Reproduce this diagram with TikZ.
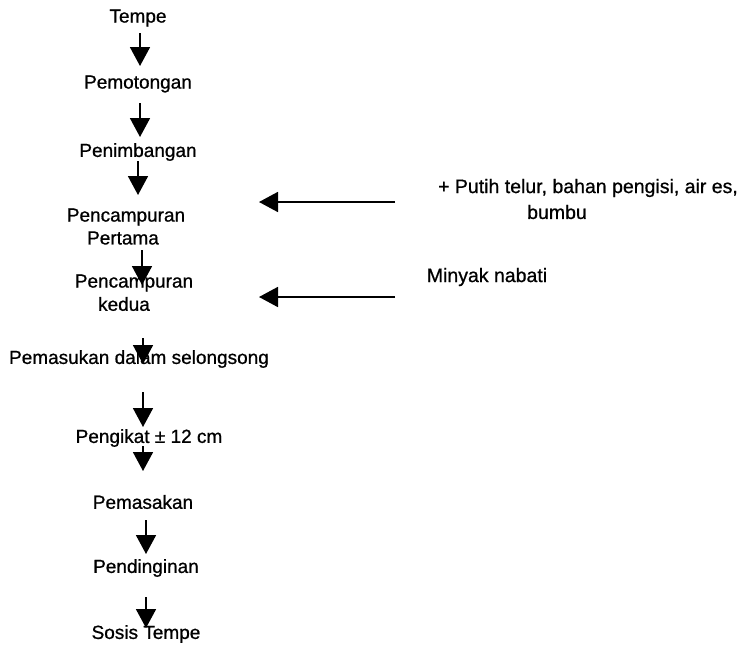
\documentclass[tikz,border=0pt]{standalone}
\usepackage{fontspec}
\setmainfont{Liberation Sans}
\newfontfamily\heavyfont[RawFeature={embolden=0.8}]{Liberation Sans}
\usetikzlibrary{arrows.meta}
\tikzset{
  lbl/.style={inner sep=0pt, font=\fontsize{19}{22}\heavyfont, align=center},
  lblr/.style={lbl, font=\fontsize{19.5}{22}\heavyfont},
  flow/.style={line width=1.8pt, -{Triangle[width=20pt,length=19pt]}},
}
\begin{document}
\begin{tikzpicture}[x=1pt,y=-1pt]
\useasboundingbox (0,0) rectangle (744,645);
\node[lbl] (t1) at (138,18) {Tempe};
\node[lbl] (t2) at (138,84) {Pemotongan};
\node[lbl] (t3) at (138,152) {Penimbangan};
\node[lbl] (t4a) at (126,217) {Pencampuran};
\node[lbl] (t4b) at (123,238) {Pertama};
\node[lbl] (t5a) at (134,283) {Pencampuran};
\node[lbl] (t5b) at (124,304) {kedua};
\node[lbl] (t6) at (139,359) {Pemasukan dalam selongsong};
\node[lbl] (t7) at (149,438) {Pengikat ± 12 cm};
\node[lbl] (t8) at (143,502) {Pemasakan};
\node[lbl] (t9) at (146,568) {Pendinginan};
\node[lbl] (t10) at (146,634) {Sosis Tempe};
\node[lblr] (r1) at (588,188) {+ Putih telur, bahan pengisi, air es,};
\node[lblr] (r1b) at (557,212) {bumbu};
\node[lblr] (r2) at (487,277) {Minyak nabati};
\coordinate (a1s) at (140,33); \coordinate (a1e) at (140,66);
\coordinate (a2s) at (140,103); \coordinate (a2e) at (140,137);
\coordinate (a3s) at (138,161); \coordinate (a3e) at (138,195);
\coordinate (a4s) at (142,250); \coordinate (a4e) at (142,285);
\coordinate (a5s) at (143,338); \coordinate (a5e) at (143,364);
\coordinate (a6s) at (143,392); \coordinate (a6e) at (143,427);
\coordinate (a7s) at (143,446); \coordinate (a7e) at (143,471);
\coordinate (a8s) at (146,520); \coordinate (a8e) at (146,554);
\coordinate (a9s) at (146,597); \coordinate (a9e) at (146,628);
\coordinate (b1s) at (395,202); \coordinate (b1e) at (259,202);
\coordinate (b2s) at (395,297); \coordinate (b2e) at (259,297);
\foreach \s/\e in {a1s/a1e,a2s/a2e,a3s/a3e,a4s/a4e,a5s/a5e,a6s/a6e,a7s/a7e,a8s/a8e,a9s/a9e,b1s/b1e,b2s/b2e}
  \draw[flow] (\s) -- (\e);
\end{tikzpicture}
\end{document}
